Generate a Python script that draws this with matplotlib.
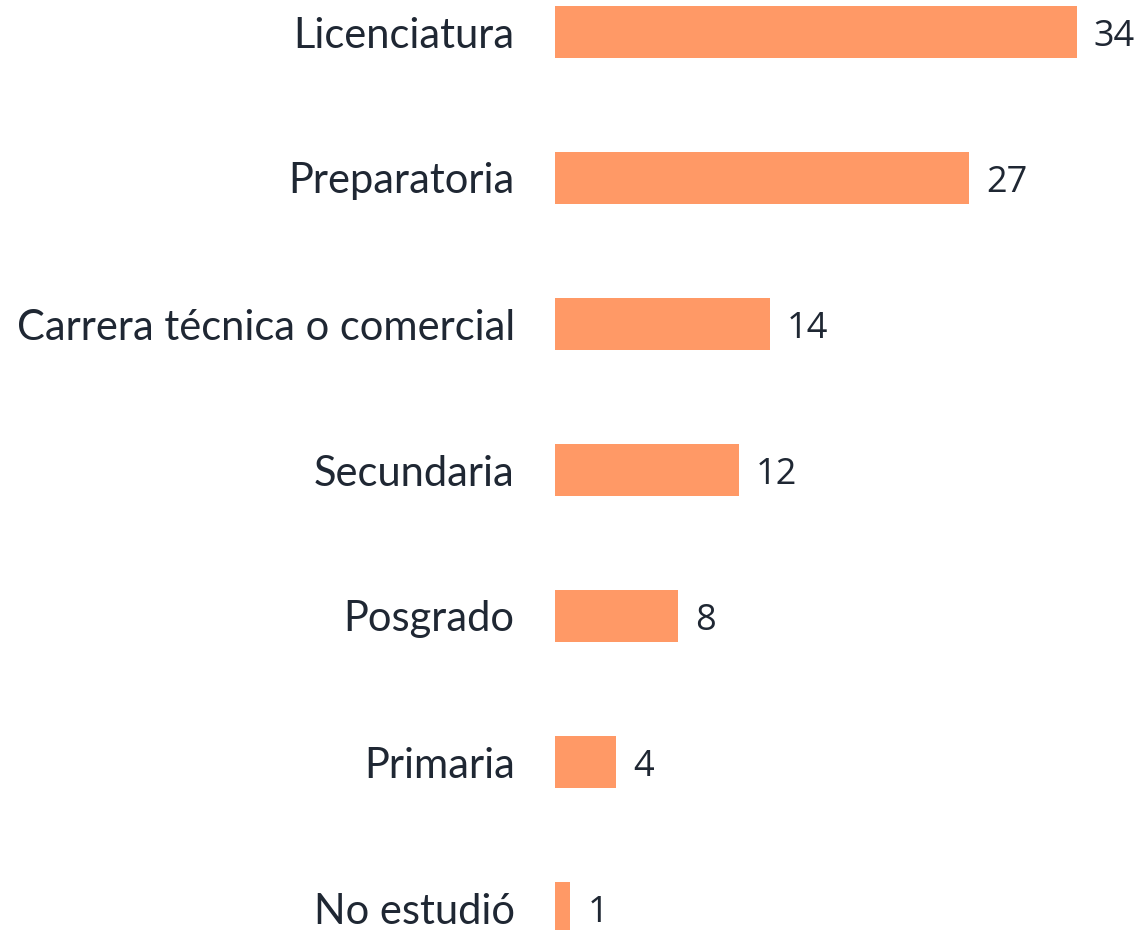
import matplotlib
matplotlib.use("Agg")
import matplotlib.pyplot as plt

categories = ["Licenciatura", "Preparatoria", "Carrera técnica o comercial",
              "Secundaria", "Posgrado", "Primaria", "No estudió"]
values = [34, 27, 14, 12, 8, 4, 1]

W, H = 1142, 930
fig = plt.figure(figsize=(W / 100, H / 100), dpi=100)
left_px = 555
ax = fig.add_axes([left_px / W, 0, 1 - left_px / W, 1])

pos = list(range(len(categories)))
ax.barh(pos, values, height=0.35, color="#FF9966")
scale = 15.35
ax.set_xlim(0, (W - left_px) / scale)
ax.set_ylim((H - 32) / 146, -32 / 146)

text_color = "#1F2733"
for p, v in zip(pos, values):
    ax.text(v + 1.1, p, str(v), va="center_baseline", ha="left", fontsize=26,
            family="Open Sans", color=text_color)

ax.set_yticks(pos)
ax.set_yticklabels(categories, fontsize=30, family="Lato", color=text_color,
                   va="center_baseline")
ax.tick_params(axis="y", length=0, pad=29)
ax.set_xticks([])
for s in ax.spines.values():
    s.set_visible(False)

fig.savefig("out.png", dpi=100)
